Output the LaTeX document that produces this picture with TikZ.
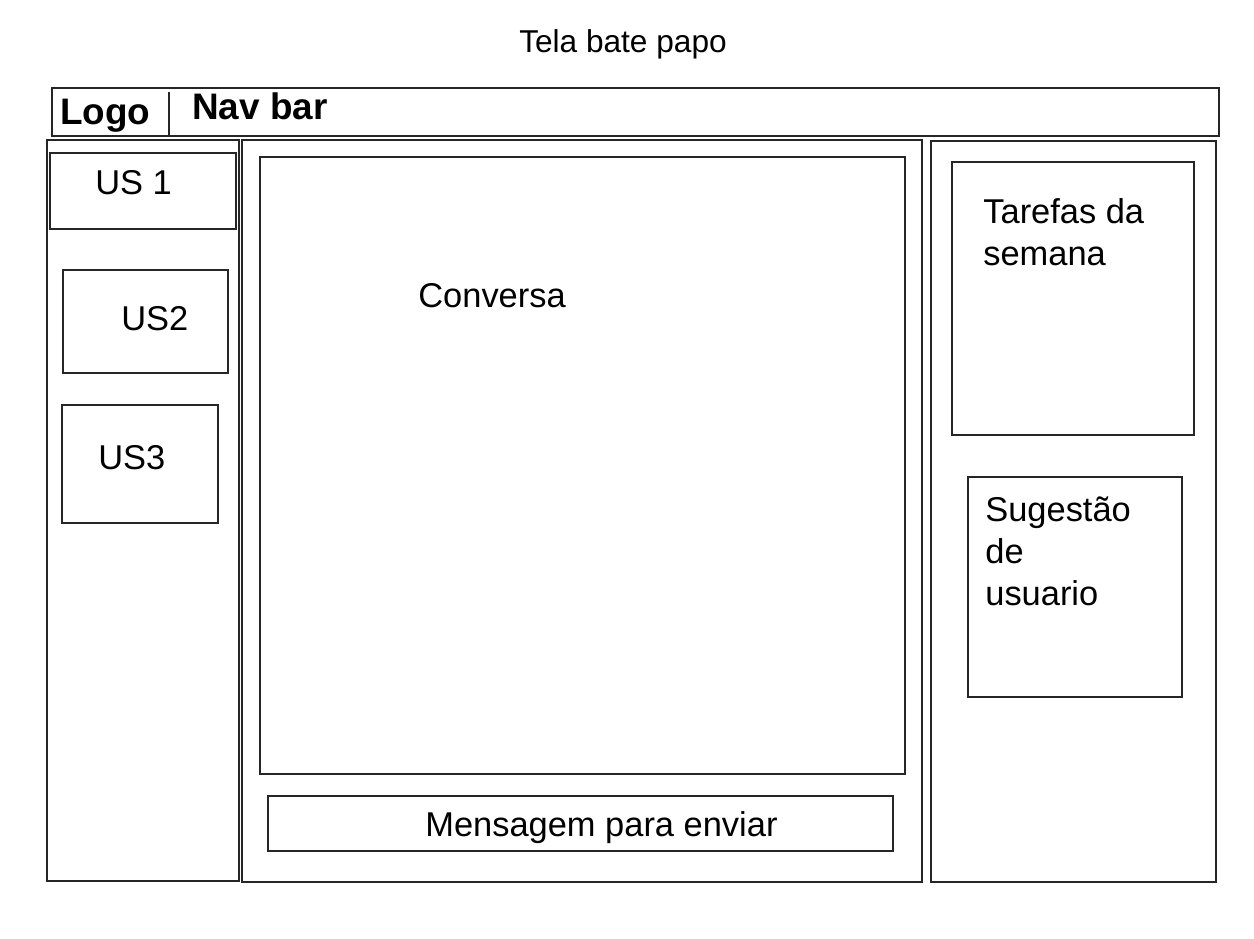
\documentclass[tikz,border=0pt]{standalone}
\usepackage{fontspec}
\setmainfont{Liberation Sans}
\tikzset{
  frame/.style={draw=black!85,line width=0.65pt},
  txt/.style={inner sep=0pt,anchor=base west,font=\fontsize{19.6}{23.8}\selectfont,align=left},
  ttxt/.style={inner sep=0pt,anchor=base,font=\fontsize{18}{22}\selectfont},
  btxt/.style={inner sep=0pt,anchor=base west,font=\fontsize{21}{25}\selectfont\bfseries}
}
\begin{document}
\begin{tikzpicture}[x=0.02cm,y=-0.02cm]
                        \useasboundingbox (0,0) rectangle (1254,939);
                        \node[ttxt] (title) at (623,53) {Tela bate papo};
                        \draw[frame] (52,88) rectangle (1219,136);
                        \draw[frame] (169,92) -- (169,136);
                        \node[btxt] (logo) at (60,125) {Logo};
                        \node[btxt] (navbar) at (192,120) {Nav bar};
                        \draw[frame] (47,140) rectangle (239,881);
                        \draw[frame] (50,153) rectangle (236,229);
                        \node[txt] (us1) at (95,195) {US 1};
                        \draw[frame] (63,270) rectangle (228,373);
                        \node[txt] (us2) at (121,330) {US2};
                        \draw[frame] (62,405) rectangle (218,523);
                        \node[txt] (us3) at (98,469) {US3};
                        \draw[frame] (242,140) rectangle (922,882);
                        \draw[frame] (260,157) rectangle (905,774);
                        \node[txt] (conversa) at (418,307) {Conversa};
                        \draw[frame] (268,796) rectangle (893,851);
                        \node[txt] (mensagem) at (425,836) {Mensagem para enviar};
                        \draw[frame] (931,141) rectangle (1216,882);
                        \draw[frame] (952,162) rectangle (1194,435);
                        \node[txt] (tarefas) at (983,265) {Tarefas da\\semana};
                        \draw[frame] (968,477) rectangle (1182,697);
                        \node[txt] (sugestao) at (985,605) {Sugestão\\de\\usuario};
                    \end{tikzpicture}
\end{document}
